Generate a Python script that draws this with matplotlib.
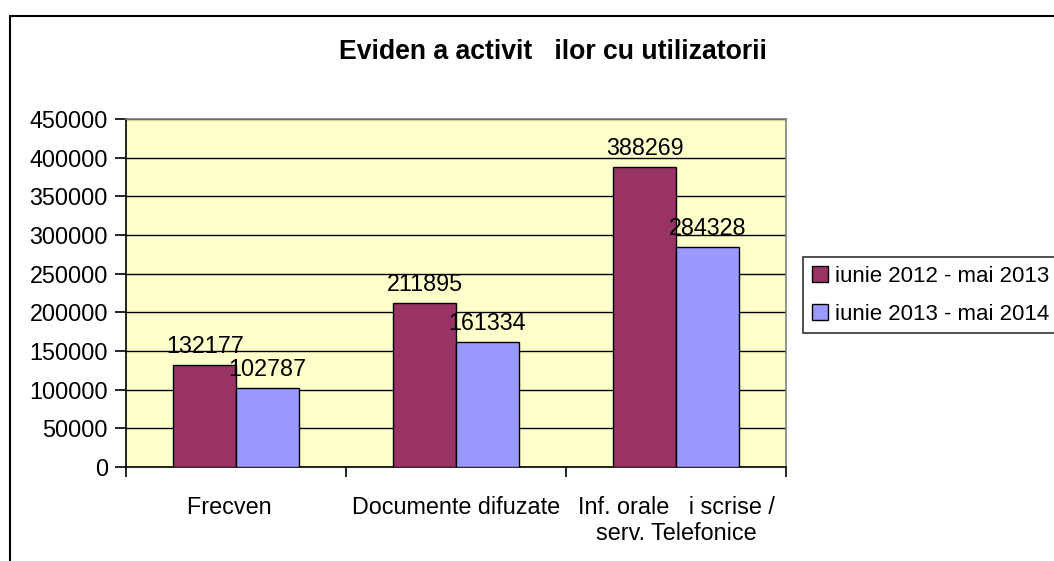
import matplotlib
matplotlib.use('Agg')
import matplotlib.pyplot as plt
import numpy as np
from matplotlib.patches import Rectangle

categories = ['Frecven  ', 'Documente difuzate', 'Inf. orale   i scrise /\nserv. Telefonice']
series_names = ['iunie 2012 - mai 2013', 'iunie 2013 - mai 2014']
vals_2012 = [132177, 211895, 388269]
vals_2013 = [102787, 161334, 284328]
title = 'Eviden a activit   ilor cu utilizatorii'

plt.rcParams['font.family'] = ['Liberation Sans', 'DejaVu Sans']
fs = 16.8

fig = plt.figure(figsize=(10.54, 5.61), dpi=100)
fig.patch.set_facecolor('white')

# outer chart frame (left and top visible, rest runs off the picture)
fig.patches.append(Rectangle((10/1054, -0.1), 1.2, 1 - 16/561 + 0.1,
                             transform=fig.transFigure, fill=False,
                             edgecolor='black', linewidth=1.5))

ax = fig.add_axes([126/1054, 94/561, 660/1054, 348/561])
ax.set_facecolor('#FFFFCC')

x = np.arange(len(categories))
w = 0.285
b1 = ax.bar(x - w/2, vals_2012, w, color='#993366', edgecolor='black', linewidth=1, label=series_names[0], zorder=3)
b2 = ax.bar(x + w/2, vals_2013, w, color='#9999FF', edgecolor='black', linewidth=1, label=series_names[1], zorder=3)
ax.bar_label(b1, fontsize=fs, padding=5)
ax.bar_label(b2, fontsize=fs, padding=5)

ax.set_ylim(0, 450000)
ax.set_yticks(np.arange(0, 450001, 50000))
ax.set_xlim(-0.5, 2.5)
ax.yaxis.grid(True, color='black', linewidth=1)
ax.set_axisbelow(True)

ax.set_xticks([-0.5, 0.5, 1.5, 2.5])
ax.set_xticklabels([])
ax.set_xticks(x, minor=True)
ax.set_xticklabels(categories, minor=True, fontsize=fs, linespacing=1.15)
ax.tick_params(axis='x', which='minor', length=0, pad=21)
ax.tick_params(axis='x', which='major', length=7, width=1.2, direction='out')
ax.tick_params(axis='y', length=8, width=1.2, labelsize=fs, pad=5)

for s in ['top', 'right']:
    ax.spines[s].set_color('#808080')
    ax.spines[s].set_linewidth(1.2)
for s in ['left', 'bottom']:
    ax.spines[s].set_color('black')
    ax.spines[s].set_linewidth(1.2)

fig.text(553/1054, 1 - 52/561, title, ha='center', va='center', fontsize=19.2, fontweight='bold')

leg = fig.legend(loc='upper left', bbox_to_anchor=(803/1054, 1 - 257/561), bbox_transform=fig.transFigure,
                 fontsize=16, frameon=True, fancybox=False, edgecolor='black', borderaxespad=0,
                 handlelength=0.72, handleheight=0.72, handletextpad=0.3, labelspacing=0.75,
                 borderpad=0.4)
leg.get_frame().set_linewidth(1.2)

fig.savefig('out.png', dpi=100)
